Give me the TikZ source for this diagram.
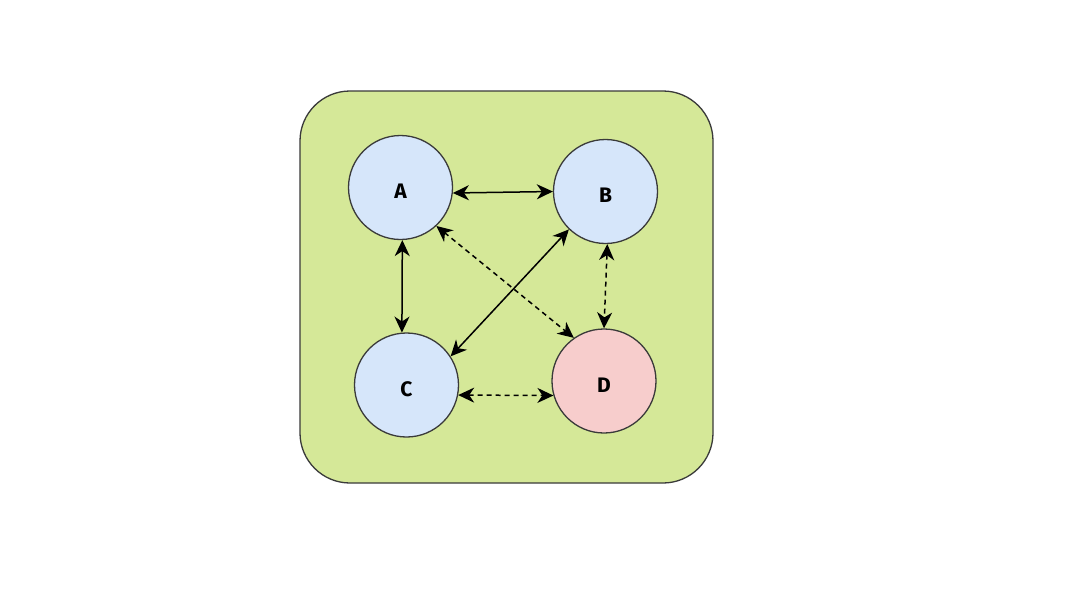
\documentclass[tikz,border=0pt]{standalone}
\usepackage{fontspec}
\setmainfont{Fira Sans}
\usetikzlibrary{arrows.meta}
\definecolor{panelgreen}{HTML}{D5E898}
\definecolor{nodeblue}{HTML}{D6E6FA}
\definecolor{nodered}{HTML}{F7CDCC}
\definecolor{edgegray}{HTML}{3A3A3A}
\tikzset{
  vertex/.style={circle, draw=edgegray, line width=1.3pt, minimum size=104pt, inner sep=0pt, fill=nodeblue},
  tag/.style={font=\fontsize{21}{24}\selectfont\bfseries, inner sep=0pt},
  link/.style={line width=1.5pt, {Stealth[length=16pt,width=15pt,inset=5pt]}-{Stealth[length=16pt,width=15pt,inset=5pt]}},
  dlink/.style={link, dash pattern=on 5pt off 4pt}
}
\begin{document}
\begin{tikzpicture}[x=1pt,y=-1pt]
\useasboundingbox (0,0) rectangle (1080,603);
\fill[white] (0,0) rectangle (1080,603);
\node[draw=edgegray, fill=panelgreen, line width=1.3pt, rounded corners=50pt, minimum width=413pt, minimum height=392pt, inner sep=0pt] (panel) at (506.5,287) {};
\node[vertex] (A) at (400.5,187.5) {};
\node[vertex] (B) at (605.5,191.5) {};
\node[vertex] (C) at (406.5,385) {};
\node[vertex, fill=nodered] (D) at (604,381) {};
\node[tag] (la) at ([yshift=-4pt]A.center) {A};
\node[tag] (lb) at ([yshift=-4pt]B.center) {B};
\node[tag] (lc) at ([yshift=-4pt]C.center) {C};
\node[tag] (ld) at ([yshift=-4pt]D.center) {D};
\draw[link] (A.-6) -- (B.180);
\draw[link] (A.-88) -- (C.95);
\draw[link] (B.226) -- (C.33);
\draw[dlink] (A.-47) -- (D.125);
\draw[dlink] (B.-88) -- (D.90);
\draw[dlink] (C.-11) -- (D.196);
\end{tikzpicture}
\end{document}
